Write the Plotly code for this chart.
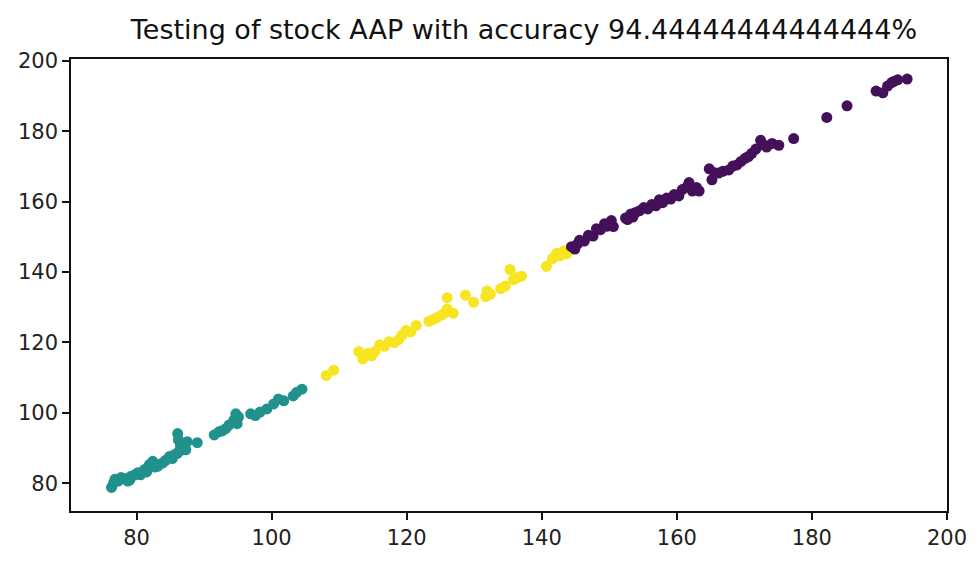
import plotly.graph_objects as go

# Cluster 0 (teal): actual vs predicted price pairs
teal_x = [76.3, 76.6, 76.8, 77.3, 77.7, 78.3, 78.7, 79.0, 79.2, 79.7, 80.2, 80.6,
          81.2, 81.5, 81.9, 82.4, 82.7, 83.1, 83.5, 83.9, 84.3, 84.9, 85.3, 85.6,
          86.0, 86.3, 86.1, 86.2, 86.5, 86.8, 87.3, 87.5, 89.0, 91.5, 92.2, 92.7,
          93.2, 93.7, 94.4, 94.9, 94.7, 95.1, 96.9, 97.6, 98.3, 99.3, 100.3, 101.0,
          101.8, 103.2, 103.7, 104.5]
teal_y = [78.8, 80.0, 81.1, 80.6, 81.6, 81.3, 80.6, 80.9, 82.0, 82.3, 83.0, 82.4,
          83.9, 83.2, 85.3, 86.2, 84.6, 84.8, 85.4, 85.8, 86.5, 87.6, 87.0, 88.1,
          88.4, 89.0, 94.1, 92.3, 90.7, 90.0, 89.5, 91.8, 91.5, 93.7, 94.6, 94.9,
          95.5, 96.5, 97.9, 96.9, 99.7, 98.8, 99.7, 99.2, 100.2, 101.1, 102.5, 103.9,
          103.4, 104.8, 105.8, 106.7]

# Cluster 1 (yellow)
yellow_x = [108.1, 109.2, 112.9, 113.5, 114.3, 114.8, 115.3, 116.0, 116.7, 117.4,
            118.2, 118.8, 119.3, 119.9, 120.6, 121.4, 123.3, 123.9, 124.5, 125.2,
            125.6, 126.0, 126.0, 126.9, 128.7, 129.9, 131.7, 131.9, 132.4, 133.9,
            134.6, 135.3, 135.8, 136.4, 137.0, 140.7, 141.6, 142.2, 142.7, 143.3,
            143.7]
yellow_y = [110.6, 112.1, 117.4, 115.3, 116.9, 116.2, 117.4, 119.3, 118.9, 120.2,
            119.9, 120.8, 122.0, 123.4, 123.0, 124.8, 126.0, 126.5, 127.1, 127.8,
            128.3, 132.7, 129.5, 128.3, 133.4, 131.4, 133.0, 134.6, 133.7, 135.3,
            136.0, 140.7, 137.8, 138.4, 138.8, 141.6, 143.8, 145.3, 144.6, 146.0,
            145.2]

# Cluster 2 (purple)
purple_x = [144.4, 144.9, 145.3, 145.6, 146.3, 146.9, 147.6, 148.1, 148.7, 149.3, 149.7,
            150.3, 150.6, 152.4, 152.7, 153.2, 153.5, 153.9, 154.5, 155.1, 155.7, 156.3,
            156.9, 157.4, 157.9, 158.5, 159.1, 159.6, 160.3, 160.8, 161.5, 161.8,
            162.3, 162.9, 163.3, 164.8, 165.2, 165.6, 166.2, 166.8, 167.7, 168.3,
            168.9, 169.5, 170.1, 170.6, 171.1, 171.7, 172.4, 173.0, 173.3, 174.1,
            175.1, 177.3, 182.2, 185.2, 189.5, 190.5, 191.2, 191.8, 192.2, 192.7,
            194.1]
purple_y = [147.2, 146.5, 148.0, 149.0, 148.8, 150.4, 150.2, 152.3, 152.0, 153.7, 153.0,
            154.6, 152.9, 155.3, 154.9, 156.5, 155.6, 156.9, 157.4, 158.3, 157.9, 159.2,
            158.8, 160.5, 159.7, 161.0, 160.7, 162.0, 161.6, 163.4, 164.2, 165.4,
            163.0, 164.0, 163.0, 169.3, 166.2, 168.2, 168.1, 168.6, 169.0, 170.1,
            170.4, 171.4, 172.3, 172.8, 173.7, 174.9, 177.4, 176.0, 175.5, 176.5,
            176.0, 177.9, 183.9, 187.2, 191.4, 190.9, 192.8, 193.8, 194.2, 194.6,
            194.8]

accuracy = 94.44444444444444
x_ticks = [80, 100, 120, 140, 160, 180, 200]
y_ticks = [80, 100, 120, 140, 160, 180, 200]

fig = go.Figure()
for xs, ys, col in [(teal_x, teal_y, "#21918c"),
                    (yellow_x, yellow_y, "#f8e521"),
                    (purple_x, purple_y, "#44105a")]:
    fig.add_trace(go.Scatter(
        x=xs, y=ys, mode="markers",
        marker=dict(size=11, color=col, line=dict(width=0)),
        showlegend=False, hoverinfo="x+y",
    ))

axis_style = dict(
    showline=True, mirror=True, linecolor="#111111", linewidth=1.6,
    ticks="outside", ticklen=7, tickwidth=1.5, tickcolor="#111111",
    showgrid=False, zeroline=False,
    tickfont=dict(family="DejaVu Sans", size=21, color="#222222"),
)

fig.update_layout(
    width=979, height=562,
    margin=dict(l=71, r=26, t=59, b=44),
    paper_bgcolor="white", plot_bgcolor="white",
    title=dict(
        text=f"Testing of stock AAP with accuracy {accuracy}%",
        font=dict(family="DejaVu Sans", size=27, color="#111111"),
        x=524 / 979, xref="container", xanchor="center",
        y=1 - 30 / 562, yref="container", yanchor="middle",
    ),
    xaxis=dict(range=[70.3, 200], tickvals=x_ticks, **axis_style),
    yaxis=dict(range=[72.1, 200.5], tickvals=y_ticks, **axis_style),
)

fig.write_html("out.html")
